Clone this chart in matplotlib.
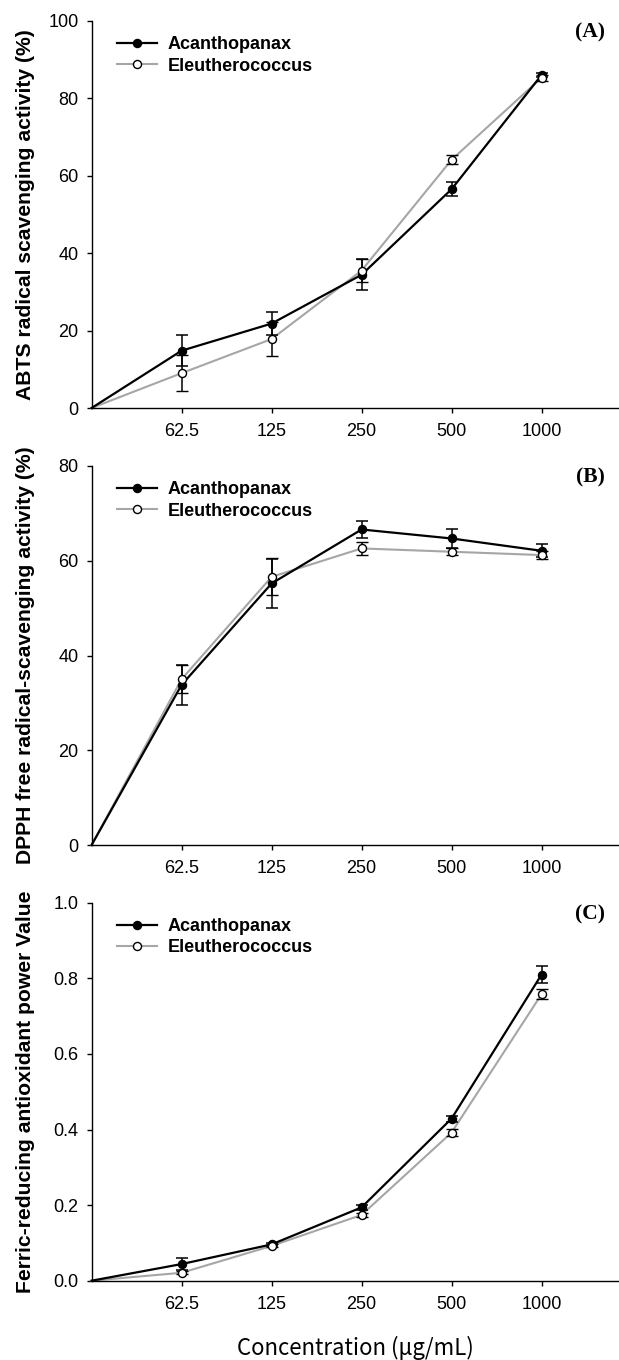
import matplotlib
matplotlib.use("Agg")
import matplotlib.pyplot as plt
from matplotlib.lines import Line2D

# concentrations (categorical axis)
conc_labels = ["62.5", "125", "250", "500", "1000"]

# (A) ABTS radical scavenging activity (%)
abts_acan = [14.8, 21.8, 34.4, 56.5, 86.0]
abts_acan_err = [4.0, 3.0, 4.0, 1.8, 0.5]
abts_eleu = [9.0, 17.8, 35.5, 64.1, 85.3]
abts_eleu_err = [4.7, 4.5, 3.0, 1.2, 0.8]

# (B) DPPH free radical-scavenging activity (%)
dpph_acan = [33.8, 55.2, 66.6, 64.7, 62.1]
dpph_acan_err = [4.2, 5.1, 1.8, 2.1, 1.4]
dpph_eleu = [35.0, 56.6, 62.6, 61.9, 61.2]
dpph_eleu_err = [3.0, 3.9, 1.3, 0.7, 0.8]

# (C) FRAP value
frap_acan = [0.044, 0.096, 0.194, 0.429, 0.810]
frap_acan_err = [0.015, 0.005, 0.006, 0.008, 0.023]
frap_eleu = [0.021, 0.092, 0.174, 0.392, 0.758]
frap_eleu_err = [0.004, 0.004, 0.005, 0.010, 0.013]

names = ["Acanthopanax", "Eleutherococcus"]

plt.rcParams['font.family'] = ['Liberation Sans', 'DejaVu Sans']

W, H = 619, 1360
fig = plt.figure(figsize=(W / 100, H / 100), dpi=100)

gray = "#a6a6a6"

panels = [
    # bottom px, top px, ylim, yticks, ylabel, tag, series
    (408, 20.7, (0, 100), [0, 20, 40, 60, 80, 100], "ABTS radical scavenging activity (%)", "(A)",
     abts_acan, abts_acan_err, abts_eleu, abts_eleu_err, "{:.0f}"),
    (845, 466, (0, 80), [0, 20, 40, 60, 80], "DPPH free radical-scavenging activity (%)", "(B)",
     dpph_acan, dpph_acan_err, dpph_eleu, dpph_eleu_err, "{:.0f}"),
    (1280.7, 902.7, (0, 1.0), [0, 0.2, 0.4, 0.6, 0.8, 1.0], "Ferric-reducing antioxidant power Value", "(C)",
     frap_acan, frap_acan_err, frap_eleu, frap_eleu_err, "{:.1f}"),
]

left_px = 91.6
x = list(range(1, len(conc_labels) + 1))
x0 = [0] + x

for (bot, top, ylim, yticks, ylab, tag, ya, ea, ye, ee, fmt) in panels:
    ax = fig.add_axes([left_px / W, 1 - bot / H, 1 - left_px / W, (bot - top) / H])

    # connecting lines start at origin
    ax.plot(x0, [0] + ya, color="black", lw=1.6, zorder=3, clip_on=False)
    ax.plot(x0, [0] + ye, color=gray, lw=1.5, zorder=2, clip_on=False)

    ax.errorbar(x, ya, yerr=ea, fmt="o", color="black", ms=5.8, mfc="black", mec="black",
                ecolor="black", elinewidth=1.1, capsize=4.3, capthick=1.1, zorder=4, clip_on=False)
    ax.errorbar(x, ye, yerr=ee, fmt="o", color="black", ms=5.8, mfc="white", mec="black",
                mew=1.0, ecolor="black", elinewidth=1.1, capsize=4.3, capthick=1.1, zorder=5, clip_on=False)

    ax.set_xlim(0, (W - left_px) / 90.0)
    ax.set_ylim(*ylim)
    ax.set_xticks(x)
    ax.set_xticklabels(conc_labels)
    ax.set_yticks(yticks)
    ax.set_yticklabels([fmt.format(v) for v in yticks])

    for s in ["top", "right"]:
        ax.spines[s].set_visible(False)
    for s in ["left", "bottom"]:
        ax.spines[s].set_linewidth(1.0)
    ax.tick_params(axis="both", direction="out", length=3.8, width=1.0, labelsize=13)
    ax.tick_params(axis="x", pad=7)
    ax.tick_params(axis="y", pad=5.5)

    ax.set_ylabel(ylab, fontsize=15.2, fontweight="bold")
    ax.yaxis.set_label_coords(-0.107, 0.5)

    ax.text(0.945, 0.97, tag, transform=ax.transAxes, ha="center", va="center",
            fontsize=15.5, fontweight="bold", family="Liberation Serif")

    handles = [
        Line2D([], [], color="black", lw=1.6, marker="o", ms=5.8, mfc="black", mec="black"),
        Line2D([], [], color=gray, lw=1.5, marker="o", ms=5.8, mfc="white", mec="black", mew=1.0),
    ]
    ax.legend(handles, names, loc="upper left", bbox_to_anchor=(0.048, 0.96), frameon=False,
              borderaxespad=0, borderpad=0, handlelength=2.2, handletextpad=0.6,
              labelspacing=0.25, prop={"weight": "bold", "size": 13})

fig.text((left_px + W) / 2 / W, 1 - 1355 / H, "Concentration (μg/mL)", ha="center", va="baseline",
         fontsize=16, fontweight="medium", family=["Noto Sans CJK KR", "DejaVu Sans"])

fig.savefig("out.png", dpi=100)
